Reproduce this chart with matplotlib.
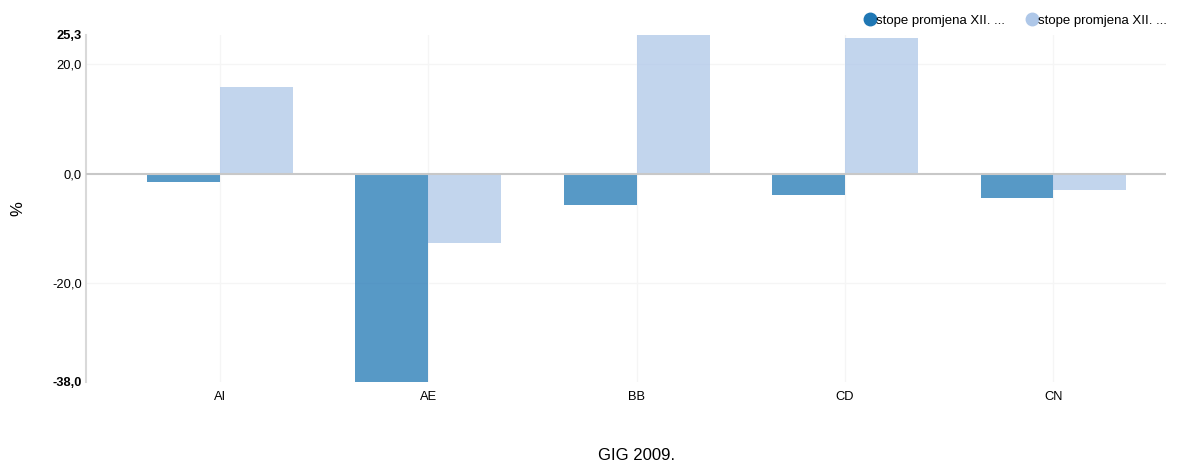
import numpy as np
import matplotlib.pyplot as plt
from matplotlib.lines import Line2D

categories = ["AI", "AE", "BB", "CD", "CN"]
series1 = [-1.5, -38.0, -5.8, -3.9, -4.4]
series2 = [15.8, -12.6, 25.3, 24.7, -3.0]
series_names = ["stope promjena XII. ...", "stope promjena XII. ..."]
y_ticks = [-38.0, -20.0, 0.0, 20.0, 25.3]

c1 = "#1f77b4"
c2 = "#aec7e8"

plt.rcParams['font.family'] = ['Liberation Sans', 'DejaVu Sans']

fig = plt.figure(figsize=(11.79, 4.67), dpi=100)
ax = fig.add_axes([86 / 1179, 1 - 382 / 467, (1166 - 86) / 1179, (382 - 35) / 467])

x = np.arange(len(categories))
w = 0.35
ax.bar(x - w / 2, series1, width=w, color=c1, alpha=0.75, zorder=2)
ax.bar(x + w / 2, series2, width=w, color=c2, alpha=0.75, zorder=2)

ax.set_xlim(-0.643, 4.54)
ax.set_ylim(-38.0, 25.3)

# grid
for yy in [-20, 20]:
    ax.axhline(yy, color="#f5f5f5", lw=1, zorder=0)
for xx in x:
    ax.axvline(xx, color="#f5f5f5", lw=1, zorder=0)
ax.axhline(0, color="#c8c8c8", lw=1.5, zorder=3)

for s in ["top", "right", "bottom"]:
    ax.spines[s].set_visible(False)
ax.spines["left"].set_color("#d9d9d9")
ax.spines["left"].set_linewidth(1.5)

ax.set_yticks(y_ticks)
ax.set_yticklabels([f"{v:.1f}".replace(".", ",") for v in y_ticks], fontsize=9.3)
for lab, v in zip(ax.get_yticklabels(), y_ticks):
    if v in (y_ticks[0], y_ticks[-1]):
        lab.set_fontweight("bold")
ax.tick_params(axis="y", length=0, pad=3)
ax.set_xticks(x)
ax.set_xticklabels(categories, fontsize=9.3)
ax.tick_params(axis="x", length=0, pad=6.5)

ax.set_ylabel("%", fontsize=12)
ax.yaxis.set_label_coords(-0.0565, 0.5)
fig.text(637 / 1179, 1 - 456 / 467, "GIG 2009.", ha="center", va="center", fontsize=12)

handles = [Line2D([], [], marker="o", ls="", color=c1, markersize=9),
           Line2D([], [], marker="o", ls="", color=c2, markersize=9)]
fig.legend(handles, series_names, loc="upper right", bbox_to_anchor=(1.0, 0.994),
           ncol=2, frameon=False, fontsize=9.5, handletextpad=0.0, columnspacing=1.5,
           handlelength=1.0)

fig.savefig("out.png", dpi=100)
